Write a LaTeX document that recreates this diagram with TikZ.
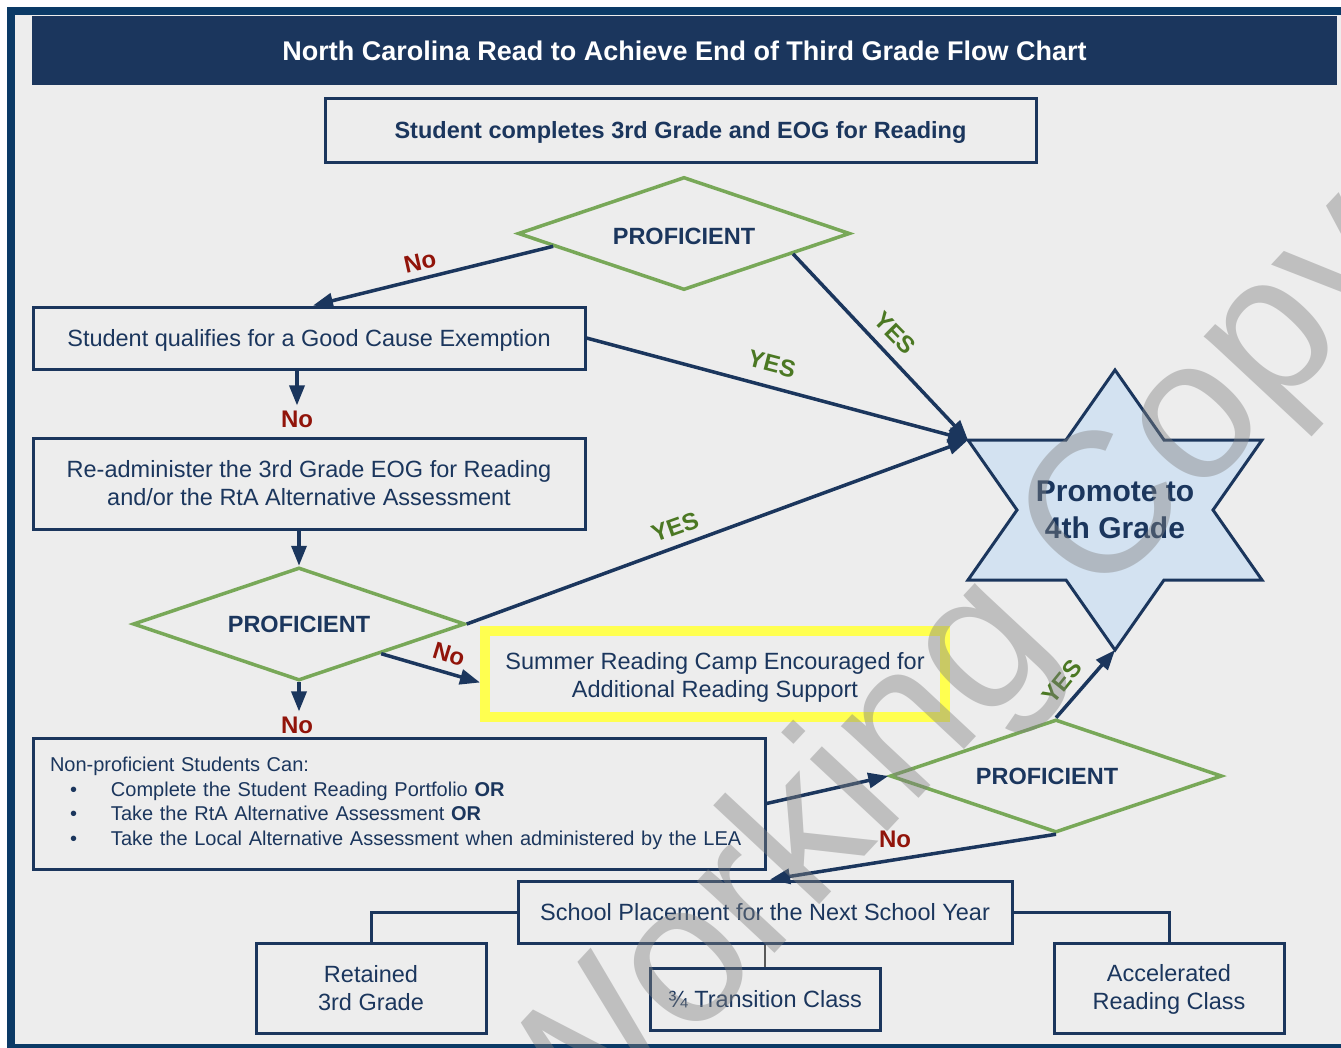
\documentclass[tikz,border=0pt]{standalone}
\usepackage{fontspec}
\setmainfont{Liberation Sans}
\usetikzlibrary{arrows.meta,shapes.geometric,calc}
\definecolor{navy}{RGB}{27,54,93}
\definecolor{framebl}{RGB}{11,58,102}
\definecolor{bggray}{RGB}{237,237,237}
\definecolor{dgreen}{RGB}{120,168,88}
\definecolor{nored}{RGB}{145,20,10}
\definecolor{yesgreen}{RGB}{75,120,35}
\definecolor{ylw}{RGB}{255,255,80}
\definecolor{starfill}{RGB}{211,226,241}
\definecolor{wmgray}{RGB}{128,128,128}
\newcommand{\lowertext}[2]{\raisebox{-#1}[\height][\depth]{#2}}
\tikzset{
  box/.style={draw=navy, line width=3pt, text=navy, align=center, inner sep=0pt,
    font=\fontsize{23.5}{28}\selectfont},
  dia/.style={diamond, aspect=3, draw=dgreen, line width=3.5pt, text=navy, inner sep=0pt,
    minimum width=332pt, minimum height=113pt, font=\bfseries\fontsize{23.5}{28}\selectfont},
  conn/.style={draw=navy, line width=3.5pt, -{Triangle[length=20pt,width=15pt]}},
  tree/.style={draw=navy, line width=3pt},
  nolab/.style={text=nored, inner sep=0pt, font=\bfseries\fontsize{24}{24}\selectfont},
  yeslab/.style={text=yesgreen, inner sep=0pt, font=\bfseries\fontsize{24}{24}\selectfont},
}
\begin{document}
\begin{tikzpicture}[x=1pt,y=-1pt]
\useasboundingbox (0,0) rectangle (1341,1047);
\clip (0,0) rectangle (1341,1047);
% frame and background
\fill[white] (0,0) rectangle (1341,1047);
\fill[framebl] (7,7) rectangle (1360,1060);
\fill[bggray] (15,15) rectangle (1345,1044);

% title
\node[fill=navy, minimum width=1305pt, minimum height=69pt, inner sep=0pt, text=white,
  font=\bfseries\fontsize{27}{27}\selectfont] (title) at (684.5,50.5)
  {North Carolina Read to Achieve End of Third Grade Flow Chart};

% boxes
\node[box, minimum width=711pt, minimum height=64pt, font=\bfseries\fontsize{23.5}{28}\selectfont] (b1) at (680.5,130)
  {\lowertext{2pt}{Student completes 3rd Grade and EOG for Reading}};
\node[dia] (d1) at (684,233.5) {\lowertext{3pt}{PROFICIENT}};
\node[box, minimum width=552pt, minimum height=62pt] (b2) at (309,338)
  {\lowertext{2pt}{Student qualifies for a Good Cause Exemption}};
\node[box, minimum width=552pt, minimum height=91pt] (b3) at (309,483.5)
  {Re-administer the 3rd Grade EOG for Reading\\and/or the RtA Alternative Assessment};
\node[dia] (d2) at (299,624) {PROFICIENT};
\node[draw=ylw, line width=10pt, minimum width=460pt, minimum height=86pt, inner sep=0pt,
  text=navy, font=\fontsize{23.5}{28}\selectfont] (summer) at (715,673.5)
  {\lowertext{4pt}{\begin{tabular}{@{}c@{}}Summer Reading Camp Encouraged for\\Additional Reading Support\end{tabular}}};
\node[box, minimum width=732pt, minimum height=131pt, text width=698pt, align=left,
  font=\fontsize{20}{24.5}\selectfont] (b4) at (399,803.5)
  {Non-proficient Students Can:\\
   \makebox[61pt][l]{\hspace*{20pt}\textbullet}Complete the Student Reading Portfolio \textbf{OR}\\
   \makebox[61pt][l]{\hspace*{20pt}\textbullet}Take the RtA Alternative Assessment \textbf{OR}\\
   \makebox[61pt][l]{\hspace*{20pt}\textbullet}Take the Local Alternative Assessment when administered by the LEA};
\node[dia] (d3) at (1056,776) {\hspace*{-18pt}PROFICIENT};
\node[box, minimum width=494pt, minimum height=62pt] (b5) at (765,912)
  {School Placement for the Next School Year};
\node[box, minimum width=230pt, minimum height=90pt] (ret) at (371,988)
  {Retained\\3rd Grade};
\node[box, minimum width=230pt, minimum height=62pt] (trans) at (765,999)
  {\textthreequarters\ Transition Class};
\node[box, minimum width=230pt, minimum height=90pt] (acc) at (1169,988)
  {\lowertext{2pt}{\begin{tabular}{@{}c@{}}Accelerated\\Reading Class\end{tabular}}};

% star
\begin{scope}[shift={(1115,510)}]
\draw[navy, line width=3pt, fill=starfill, line join=miter]
  (0,-140) -- (49,-70) -- (147,-70) -- (98,0) -- (147,70) -- (49,70) -- (0,140)
  -- (-49,70) -- (-147,70) -- (-98,0) -- (-147,-70) -- (-49,-70) -- cycle;
\end{scope}
\node[text=navy, align=center, inner sep=0pt, font=\bfseries\fontsize{30}{37}\selectfont]
  (promote) at (1115,510) {Promote to\\4th Grade};
\coordinate (starL) at (968,440);
\coordinate (starB) at (1115,650);

% labels
\node[nolab, rotate=12.6] (no1) at (420,262) {No};
\node[nolab] (no2) at (297,419) {No};
\node[nolab, rotate=-17] (no3) at (449,654) {No};
\node[nolab] (no4) at (297,725) {No};
\node[nolab] (no5) at (895,839) {No};
\node[yeslab, rotate=-14.6] (yes1) at (772,364) {YES};
\node[yeslab, rotate=-45.5] (yes2) at (895,333) {YES};
\node[yeslab, rotate=19.6] (yes3) at (675,527) {YES};
\node[yeslab, rotate=51] (yes4) at (1062,682) {YES};

% connectors
\draw[conn] ($(d1.west)!0.22!(d1.south)$) -- ([xshift=4pt]b2.north);
\draw[conn] ($(d1.south)!0.65!(d1.east)$) -- (starL);
\draw[conn] (b2.east) -- (starL);
\draw[conn] (b2.south -| no2.north) -- ($(no2.north)+(0,-5)$);
\draw[conn] (b3.south -| d2.north) -- (d2.north);
\draw[conn] (d2.east) -- (starL);
\draw[conn] ($(d2.south)!0.49!(d2.east)$) -- ([yshift=-9pt]summer.west);
\draw[conn] (d2.south) -- ($(d2.south |- no4.north)+(0,-5)$);
\draw[conn] (b4.east) -- (d3.west);
\draw[conn] (d3.north) -- (starB);
\draw[conn] (d3.south) -- ([xshift=5pt]b5.north);
\draw[tree] (b5.west) -| (ret.north);
\draw[tree] (b5.east) -| (acc.north);
\draw[draw=black!65, line width=2pt] (b5.south) -- (trans.north);

% watermark
\node[rotate=47, anchor=base west, inner sep=0pt, text=wmgray, opacity=0.42,
  font=\fontsize{200}{200}\selectfont] (wm) at (563,1180) {Working Copy};
\end{tikzpicture}
\end{document}
